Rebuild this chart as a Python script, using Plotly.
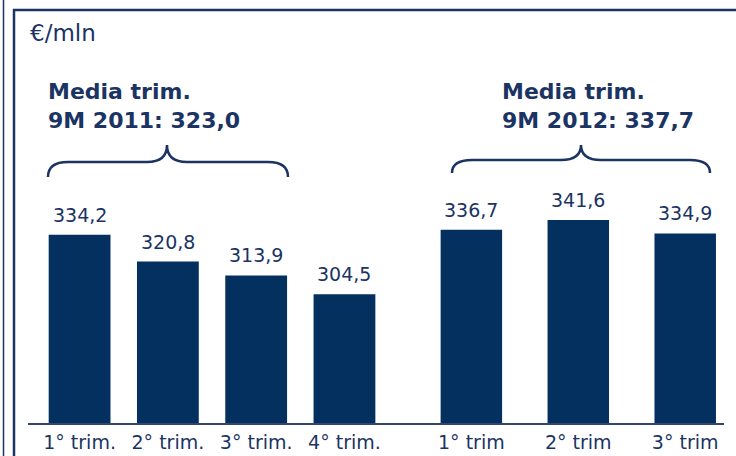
import plotly.graph_objects as go

# ---- data ----
cat_2011 = ["1° trim.", "2° trim.", "3° trim.", "4° trim."]
val_2011 = [334.2, 320.8, 313.9, 304.5]
cat_2012 = ["1° trim", "2° trim", "3° trim"]
val_2012 = [336.7, 341.6, 334.9]
unit_label = "€/mln"
avg_2011_text = "Media trim.<br>9M 2011: 323,0"
avg_2012_text = "Media trim.<br>9M 2012: 337,7"

W, H = 736, 456
NAVY = "#1b3463"
BAR = "#03305f"
FONT = "DejaVu Sans"


def px(x):
    return x / W


def py(y):
    return 1 - y / H


def fmt(v):
    return f"{v:.1f}".replace(".", ",")


fig = go.Figure()
fig.add_trace(go.Bar(x=cat_2011, y=val_2011, xaxis="x", yaxis="y",
                     marker=dict(color=BAR, line=dict(width=0)), width=0.70,
                     hoverinfo="skip"))
fig.add_trace(go.Bar(x=cat_2012, y=val_2012, xaxis="x2", yaxis="y",
                     marker=dict(color=BAR, line=dict(width=0)), width=0.575,
                     hoverinfo="skip"))

annotations = []
for c, v in zip(cat_2011, val_2011):
    annotations.append(dict(x=c, y=v, xref="x", yref="y", text=fmt(v), showarrow=False,
                            yanchor="bottom", yshift=7,
                            font=dict(family=FONT, size=19, color=NAVY)))
for c, v in zip(cat_2012, val_2012):
    annotations.append(dict(x=c, y=v, xref="x2", yref="y", text=fmt(v), showarrow=False,
                            yanchor="bottom", yshift=7,
                            font=dict(family=FONT, size=19, color=NAVY)))

annotations.append(dict(x=px(28), y=py(33), xref="paper", yref="paper", text=unit_label,
                        showarrow=False, xanchor="left", yanchor="middle",
                        font=dict(family=FONT, size=23, color=NAVY)))
annotations.append(dict(x=px(46), y=py(77), xref="paper", yref="paper", text="<b>" + avg_2011_text.replace("<br>", "</b><br><b>") + "</b>",
                        showarrow=False, xanchor="left", yanchor="top", align="left",
                        font=dict(family=FONT, size=22, color=NAVY)))
annotations.append(dict(x=px(500), y=py(77), xref="paper", yref="paper", text="<b>" + avg_2012_text.replace("<br>", "</b><br><b>") + "</b>",
                        showarrow=False, xanchor="left", yanchor="top", align="left",
                        font=dict(family=FONT, size=22, color=NAVY)))


def brace(x0, x1, xt, ytip, yh, yend, r=20):
    pts = [
        f"M {px(x0)},{py(yend)}",
        f"Q {px(x0)},{py(yh)} {px(x0 + r)},{py(yh)}",
        f"L {px(xt - r)},{py(yh)}",
        f"Q {px(xt)},{py(yh)} {px(xt)},{py(ytip)}",
        f"Q {px(xt)},{py(yh)} {px(xt + r)},{py(yh)}",
        f"L {px(x1 - r)},{py(yh)}",
        f"Q {px(x1)},{py(yh)} {px(x1)},{py(yend)}",
    ]
    return dict(type="path", xref="paper", yref="paper", path=" ".join(pts),
                line=dict(color=NAVY, width=2.5))


shapes = [
    brace(48, 288, 167, 145, 162, 177),
    brace(452, 710, 581, 145, 160, 173),
    # baseline
    dict(type="line", xref="paper", yref="paper", x0=px(28), x1=px(724), y0=py(424), y1=py(424),
         line=dict(color="#34466e", width=2)),
    # frame lines
    dict(type="line", xref="paper", yref="paper", x0=px(3.5), x1=px(3.5), y0=0, y1=1,
         line=dict(color=NAVY, width=1.5)),
    dict(type="line", xref="paper", yref="paper", x0=px(14), x1=px(14), y0=0, y1=py(9),
         line=dict(color=NAVY, width=2.5)),
    dict(type="line", xref="paper", yref="paper", x0=px(13), x1=1, y0=py(10), y1=py(10),
         line=dict(color=NAVY, width=2.5)),
]

tickfont = dict(family=FONT, size=19, color=NAVY)
fig.update_layout(
    width=W, height=H,
    margin=dict(l=0, r=0, t=0, b=0),
    paper_bgcolor="white", plot_bgcolor="white",
    showlegend=False,
    xaxis=dict(domain=[px(35.45), px(388.6)], type="category", anchor="y",
               range=[-0.5, 3.5], showgrid=False, zeroline=False, showline=False,
               ticks="", tickfont=tickfont, automargin=False, fixedrange=True,
               ticklabelstandoff=5),
    xaxis2=dict(domain=[px(417.9), 1.0], type="category", anchor="y",
                range=[-0.5, 2.475], showgrid=False, zeroline=False, showline=False,
                ticks="", tickfont=tickfont, automargin=False, fixedrange=True,
                ticklabelstandoff=5),
    yaxis=dict(domain=[1 - 424 / H, 1.0], range=[239.6, 451.6], visible=False,
               fixedrange=True),
    annotations=annotations,
    shapes=shapes,
)

fig.write_html("out.html")
